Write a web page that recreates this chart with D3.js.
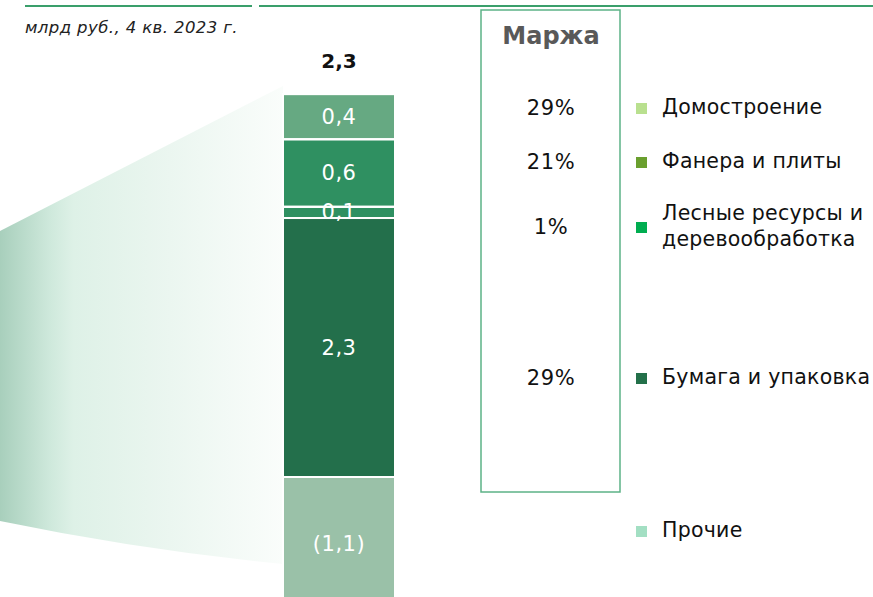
<!DOCTYPE html>
<html><head><meta charset="utf-8">
<script src="https://cdn.jsdelivr.net/npm/d3@7"></script>
<style>body{margin:0;background:#fff}svg{display:block}</style>
</head><body>
<svg id="c" width="873" height="597"></svg>
<script>
// ---- data ----
const segments = ["Бумага и упаковка", "Лесные ресурсы и деревообработка", "Фанера и плиты", "Домостроение", "Прочие"];
const values = [2.3, 0.1, 0.6, 0.4, -1.1];
const segLabels = ["2,3", "0,1", "0,6", "0,4", "(1,1)"];
const segColors = ["#236f4b", "#2f9061", "#2f9061", "#66a982", "#9ac1a8"];
const totalLabel = "2,3";
const legendNames = [["Домостроение"], ["Фанера и плиты"], ["Лесные ресурсы и", "деревообработка"], ["Бумага и упаковка"], ["Прочие"]];
const legendColors = ["#b9e08f", "#6a9f2e", "#00ad50", "#23704a", "#a3dfc3"];
const margins = ["29%", "21%", "1%", "29%", null];
const subtitle = "млрд руб., 4 кв. 2023 г.";
const marginTitle = "Маржа";

// ---- layout ----
const legendY = [108, 162, 227, 378, 531];
const svg = d3.select("#c");
const FONT = "'DejaVu Sans', sans-serif";
const FS = 20;

// gradient backdrop
const defs = svg.append("defs");
const g = defs.append("linearGradient").attr("id","bg").attr("x1","0").attr("x2","1").attr("y1","0").attr("y2","0");
[[0,"#a8cfbc"],[0.18,"#cfe9dc"],[0.26,"#def1e7"],[0.6,"#ebf6f0"],[1,"#fafdfb"]].forEach(([o,c])=>g.append("stop").attr("offset",o).attr("stop-color",c));
svg.append("path").attr("d","M0,231 L283,86 L283,564 Q140,550 0,521 Z").attr("fill","url(#bg)");

// top rules
svg.append("line").attr("x1",25).attr("x2",252).attr("y1",6).attr("y2",6).attr("stroke","#3a9f6b").attr("stroke-width",2);
svg.append("line").attr("x1",259).attr("x2",873).attr("y1",6).attr("y2",6).attr("stroke","#3a9f6b").attr("stroke-width",2);

svg.append("text").attr("x",25).attr("y",33).attr("font-family",FONT).attr("font-style","italic").attr("font-size",16.5)
  .attr("letter-spacing",0.4).attr("fill","#222").text(subtitle);

// scales
const pos = values.filter(v=>v>0).reduce((a,b)=>a+b,0);
const neg = values.filter(v=>v<0).reduce((a,b)=>a+b,0);
const y = d3.scaleLinear().domain([neg, pos]).range([477 + 1.1*112.6, 477 - 3.4*112.6]);
const x = d3.scaleBand().domain(["Q4"]).range([283, 395]).padding(0);

let cp = 0, cn = 0;
const stacked = values.map((v,i)=>{
  let a,b;
  if (v>=0){a=cp;b=cp+v;cp=b;} else {a=cn+v;b=cn;cn=a;}
  return {i,v,y0:a,y1:b};
});
const bars = svg.append("g");
bars.selectAll("rect").data(stacked).join("rect")
  .attr("x", x("Q4")).attr("width", x.bandwidth())
  .attr("y", d=>y(d.y1)).attr("height", d=>y(d.y0)-y(d.y1))
  .attr("fill", d=>segColors[d.i]).attr("stroke","#fff").attr("stroke-width",2);
bars.selectAll("text").data(stacked).join("text")
  .attr("x", x("Q4")+x.bandwidth()/2).attr("y", d=>d.v<0 ? y(d.y1)+68 : (y(d.y0)+y(d.y1))/2+1)
  .attr("text-anchor","middle").attr("dominant-baseline","middle")
  .attr("font-family",FONT).attr("font-size",21).attr("letter-spacing",0.5).attr("fill","#fff").text(d=>segLabels[d.i]);
// re-draw separators over small label
bars.selectAll("line.sep").data(stacked.slice(0,3)).join("line").attr("class","sep")
  .attr("x1",283).attr("x2",395).attr("y1",d=>y(d.y1)).attr("y2",d=>y(d.y1)).attr("stroke","#fff").attr("stroke-width",2);

svg.append("text").attr("x",339).attr("y",62).attr("text-anchor","middle").attr("dominant-baseline","middle")
  .attr("font-family",FONT).attr("font-weight","bold").attr("font-size",20).attr("fill","#111").text(totalLabel);

// margin box
svg.append("rect").attr("x",481).attr("y",10).attr("width",139).attr("height",482).attr("fill","none").attr("stroke","#5cb287").attr("stroke-width",1.5);
svg.append("text").attr("x",551).attr("y",37).attr("text-anchor","middle").attr("dominant-baseline","middle")
  .attr("font-family",FONT).attr("font-weight","bold").attr("font-size",24).attr("fill","#595959").text(marginTitle);
svg.append("g").selectAll("text").data(margins.map((m,i)=>({m,i})).filter(d=>d.m)).join("text")
  .attr("x",551).attr("y",d=>legendY[d.i]+1).attr("text-anchor","middle").attr("dominant-baseline","middle")
  .attr("font-family",FONT).attr("font-size",21).attr("letter-spacing",0.6).attr("fill","#111").text(d=>d.m);

// legend
const lg = svg.append("g").selectAll("g").data(legendNames.map((n,i)=>({n,i}))).join("g");
lg.append("rect").attr("x",636).attr("y",d=>legendY[d.i]-5).attr("width",11).attr("height",11).attr("fill",d=>legendColors[d.i]);
lg.each(function(d){
  const n=d.n.length;
  d3.select(this).selectAll("text").data(d.n).join("text")
    .attr("x",662).attr("y",(t,j)=>legendY[d.i]+(j-(n-1)/2)*26)
    .attr("dominant-baseline","middle").attr("font-family",FONT).attr("font-size",20.5).attr("letter-spacing",0.25).attr("fill","#111").text(t=>t);
});
</script>
</body></html>
